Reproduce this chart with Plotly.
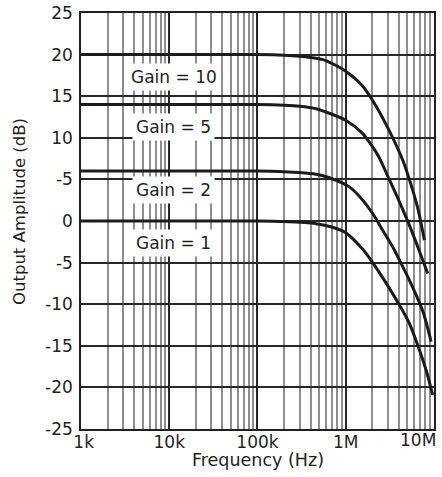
import math
import plotly.graph_objects as go

# ---- data ----
freq_g10 = [1e3, 1e4, 1e5, 2e5, 3e5, 4e5, 5.5e5, 7.1e5, 1e6, 1.56e6, 2.21e6, 3.13e6, 4.43e6, 5.26e6, 6.53e6, 7.78e6]
db_g10 = [20, 20, 20, 19.92, 19.8, 19.65, 19.4, 18.9, 18.0, 16.2, 13.8, 10.8, 7.3, 5.0, 1.6, -2.3]

freq_g5 = [1e3, 1e4, 1e5, 2e5, 3e5, 4.6e5, 7.1e5, 1e6, 1.56e6, 2.02e6, 2.4e6, 2.99e6, 4.06e6, 5.26e6, 6.82e6, 8.49e6]
db_g5 = [14, 14, 14, 13.92, 13.8, 13.5, 12.8, 12.1, 10.5, 8.9, 7.6, 5.4, 2.3, -0.5, -3.6, -6.3]

freq_g2 = [1e3, 1e4, 1e5, 2e5, 3e5, 4.6e5, 6.53e5, 1.1e6, 1.56e6, 2.02e6, 2.62e6, 3.4e6, 4.24e6, 5.26e6, 7.45e6, 9.27e6]
db_g2 = [6, 6, 6, 5.93, 5.83, 5.62, 5.2, 4.1, 2.5, 0.9, -1.1, -3.1, -5.1, -7.1, -10.8, -14.5]

freq_g1 = [1e3, 1e4, 1e5, 2e5, 4.6e5, 7.1e5, 1e6, 1.56e6, 2.02e6, 2.62e6, 4.06e6, 5.26e6, 6.53e6, 8.13e6, 9.66e6]
db_g1 = [0, 0, 0, -0.07, -0.32, -0.75, -1.4, -3.4, -5.0, -6.8, -10.1, -12.3, -14.9, -17.9, -20.9]

curves = [(freq_g10, db_g10), (freq_g5, db_g5), (freq_g2, db_g2), (freq_g1, db_g1)]

x_tickvals = [1e3, 1e4, 1e5, 1e6, 1e7]
x_ticktext = ["\u00a01k", "10k", "100k", "1M", ""]
x_last_label = "10M"   # drawn right-aligned at the last tick so it stays inside the window
y_tickvals = [25, 20, 15, 10, 5, 0, -5, -10, -15, -20, -25]
y_ticktext = ["25", "20", "15", "10", "-5", "0", "-5", "-10", "-15", "-20", "-25"]

label_text = ["Gain = 10", "Gain = 5", "Gain = 2", "Gain = 1"]
label_freq = [1.12e4, 1.12e4, 1.12e4, 1.12e4]
label_db = [17.25, 11.3, 3.75, -2.6]

x_title = "Frequency (Hz)"
y_title = "Output Amplitude (dB)"

FONT = "DejaVu Sans, Liberation Sans, Arial, sans-serif"
INK = "#231f20"
fig = go.Figure()
for f, d in curves:
    fig.add_trace(go.Scatter(x=f, y=d, mode="lines",
                             line=dict(color="#1c1a1b", width=3, shape="spline", smoothing=0.8),
                             showlegend=False, hoverinfo="skip"))

for t, fx, fy in zip(label_text, label_freq, label_db):
    fig.add_annotation(x=math.log10(fx), y=fy, text=t, showarrow=False,
                       bgcolor="white", borderpad=3,
                       font=dict(family=FONT, size=17, color=INK))

# last x tick label, right-aligned at the 10M tick
fig.add_annotation(x=math.log10(x_tickvals[-1]), y=0, xref="x", yref="paper", text=x_last_label,
                   showarrow=False, xanchor="right", yanchor="middle", xshift=4, yshift=-11,
                   font=dict(family=FONT, size=17, color=INK))

# axis titles
fig.add_annotation(x=0.5, y=0, xref="paper", yref="paper", text=x_title, showarrow=False,
                   xanchor="center", yanchor="middle", yshift=-31,
                   font=dict(family=FONT, size=17.5, color=INK))
fig.add_annotation(x=0, y=0.5, xref="paper", yref="paper", text=y_title, showarrow=False,
                   textangle=-90, xanchor="center", yanchor="middle", xshift=-62, yshift=9,
                   font=dict(family=FONT, size=16.5, color=INK))

fig.update_layout(
    width=442, height=477,
    margin=dict(l=81, r=8, t=13, b=48),
    paper_bgcolor="white", plot_bgcolor="white",
    font=dict(family=FONT, size=17, color=INK),
)
fig.update_xaxes(
    type="log", range=[3, 7.0003], automargin=False,
    tickvals=x_tickvals, ticktext=x_ticktext, ticklabeloverflow="allow",
    showgrid=True, gridcolor="#2a2728", gridwidth=1.5,
    minor=dict(showgrid=True, dtick="D1", gridcolor="#8e8e8e", gridwidth=1.5, ticks=""),
    showline=True, mirror=True, linecolor=INK, linewidth=1.5,
    ticks="", zeroline=False, ticklabelstandoff=-3,
    tickfont=dict(size=17),
)
fig.update_yaxes(
    range=[-25, 25], automargin=False, ticklabeloverflow="allow",
    tickvals=y_tickvals, ticktext=y_ticktext,
    showgrid=True, gridcolor="#2a2728", gridwidth=1.5,
    showline=True, mirror=True, linecolor=INK, linewidth=1.5,
    ticks="outside", ticklen=3, tickcolor="rgba(0,0,0,0)",
    zeroline=False,
    tickfont=dict(size=17),
)
# remove the default page margin so the figure sits at the window's top-left corner
fig.write_html("out.html", config={"displayModeBar": False},
               post_script="document.body.style.margin='0';")
